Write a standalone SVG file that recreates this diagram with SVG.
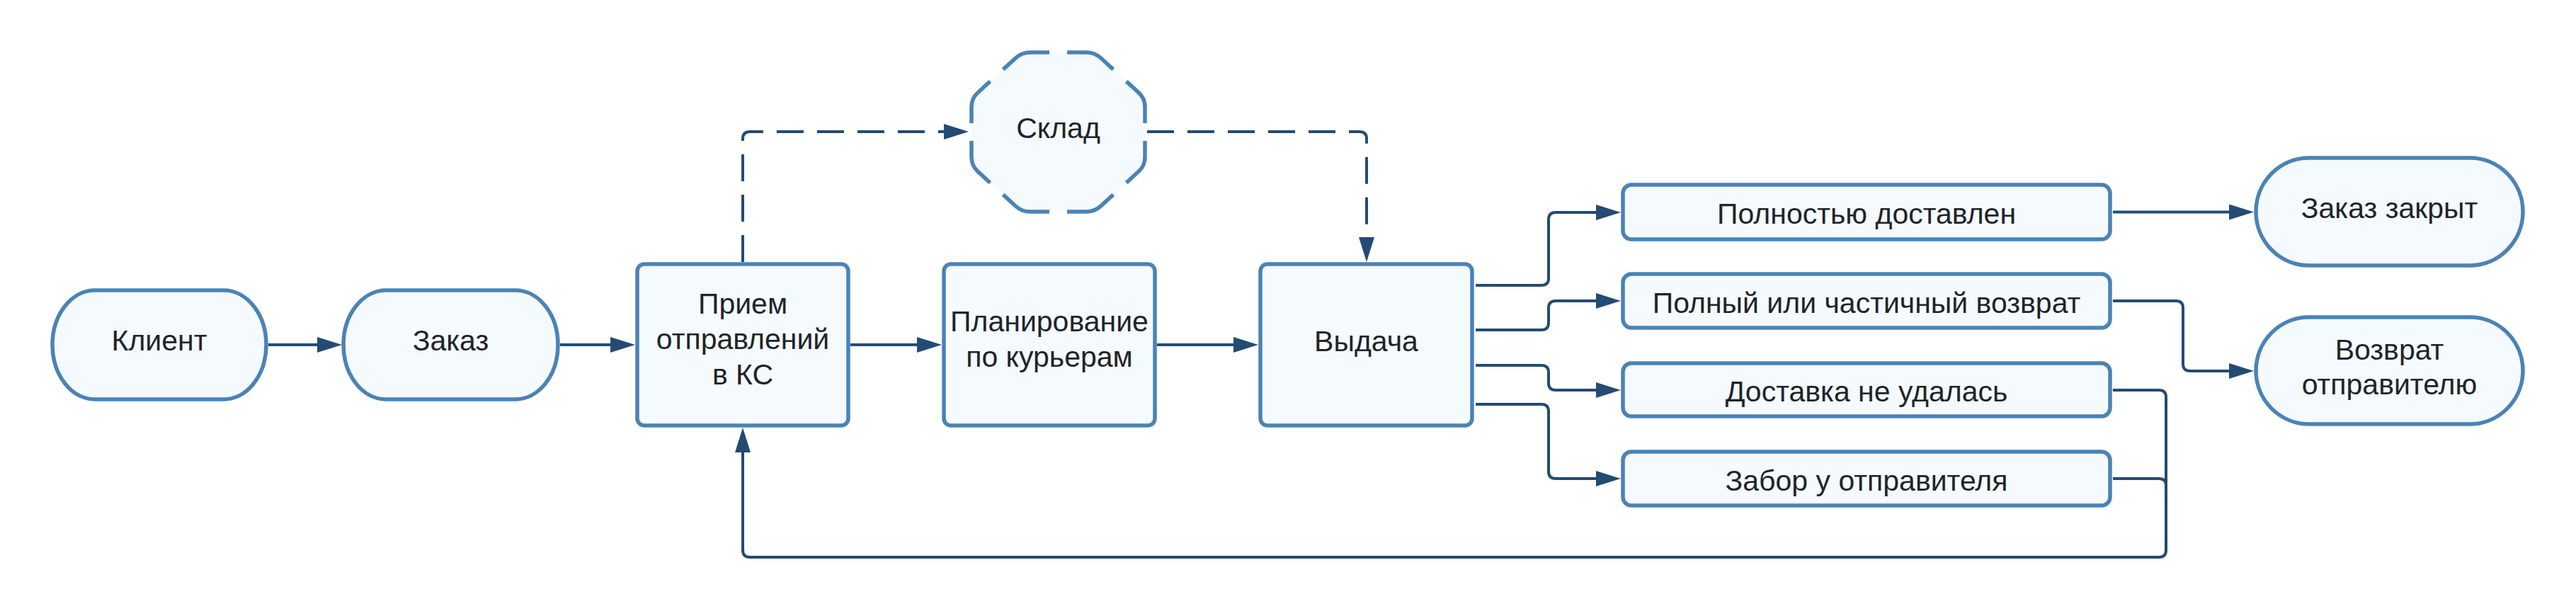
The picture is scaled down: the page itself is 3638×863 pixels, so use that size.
<svg xmlns="http://www.w3.org/2000/svg" width="3638" height="863" viewBox="0 0 3638 863">
<style>
.n{fill:#f5faff;stroke:#4a83b5;stroke-width:5.5}
.ns{fill:none;stroke:#4a83b5;stroke-width:5.5;stroke-linecap:butt}
.t{font-family:"Liberation Sans",Arial,sans-serif;font-size:41px;fill:#1f2427;text-anchor:middle}
.c{fill:none;stroke:#234b73;stroke-width:4}
.d{stroke-dasharray:38 19}
</style>
<defs>
<marker id="ah" markerUnits="userSpaceOnUse" viewBox="0 -11 35 22" refX="0" refY="0" markerWidth="35" markerHeight="22" orient="auto">
<path d="M0,-11 L35,0 L0,11 Z" fill="#234b73"/>
</marker>
</defs>
<rect width="3638" height="863" fill="#ffffff"/>
<g id="connectors">
<path class="c" d="M379,487 H448" marker-end="url(#ah)"/>
<path class="c" d="M791,487 H862" marker-end="url(#ah)"/>
<path class="c" d="M1201,487 H1295" marker-end="url(#ah)"/>
<path class="c" d="M1634,487 H1742" marker-end="url(#ah)"/>
<path class="c d" d="M1049,370 V196 Q1049,186 1059,186 H1333" marker-end="url(#ah)"/>
<path class="c d" d="M1620,186 H1920 Q1930,186 1930,196 V335" marker-end="url(#ah)"/>
<path class="c" d="M2084,403 H2177 Q2187,403 2187,393 V310 Q2187,300 2197,300 H2254" marker-end="url(#ah)"/>
<path class="c" d="M2084,466 H2177 Q2187,466 2187,456 V435 Q2187,425 2197,425 H2254" marker-end="url(#ah)"/>
<path class="c" d="M2084,516 H2177 Q2187,516 2187,526 V541 Q2187,551 2197,551 H2254" marker-end="url(#ah)"/>
<path class="c" d="M2084,571 H2177 Q2187,571 2187,581 V666 Q2187,676 2197,676 H2254" marker-end="url(#ah)"/>
<path class="c" d="M2984,299.5 H3148" marker-end="url(#ah)"/>
<path class="c" d="M2984,425 H3073 Q3083,425 3083,435 V514 Q3083,524 3093,524 H3148" marker-end="url(#ah)"/>
<path class="c" d="M2984,676 H3049 Q3059,676 3059,686 V777"/>
<path class="c" d="M2984,551 H3049 Q3059,551 3059,561 V777 Q3059,787 3049,787 H1059 Q1049,787 1049,777 V639" marker-end="url(#ah)"/>
</g>
<g id="klient">
<rect class="n" x="74" y="410" width="302" height="154" rx="60" ry="77"/>
<text class="t" x="225" y="495">Клиент</text>
</g>
<g id="zakaz">
<rect class="n" x="485" y="410" width="303" height="154" rx="60" ry="77"/>
<text class="t" x="636.5" y="495">Заказ</text>
</g>
<g id="priem">
<rect class="n" x="900" y="373" width="298" height="228" rx="10"/>
<text class="t" x="1049" y="443">Прием</text>
<text class="t" x="1049" y="493">отправлений</text>
<text class="t" x="1049" y="543">в КС</text>
</g>
<g id="plan">
<rect class="n" x="1333" y="373" width="298" height="228" rx="10"/>
<text class="t" x="1482" y="468">Планирование</text>
<text class="t" x="1482" y="518">по курьерам</text>
</g>
<g id="vydacha">
<rect class="n" x="1780" y="373" width="299" height="228" rx="10"/>
<text class="t" x="1929.5" y="496">Выдача</text>
</g>
<g id="sklad">
<path d="M1494.5,74 H1534 Q1546,74 1554.8,82.1 L1608.2,130.9 Q1617,139 1617,151 V222 Q1617,234 1608.2,242.1 L1554.8,290.9 Q1546,299 1534,299 H1455 Q1443,299 1434.2,290.9 L1380.8,242.1 Q1372,234 1372,222 V151 Q1372,139 1380.8,130.9 L1434.2,82.1 Q1443,74 1455,74 Z" fill="#f5faff"/>
<path class="ns" d="M1507,74 H1534 Q1546,74 1554.8,82.1 L1572.3,98.1"/>
<path class="ns" d="M1590.7,114.9 L1608.2,130.9 Q1617,139 1617,151 V174"/>
<path class="ns" d="M1617,199 V222 Q1617,234 1608.2,242.1 L1590.7,258.1"/>
<path class="ns" d="M1572.3,274.9 L1554.8,290.9 Q1546,299 1534,299 H1507"/>
<path class="ns" d="M1482,299 H1455 Q1443,299 1434.2,290.9 L1416.7,274.9"/>
<path class="ns" d="M1398.3,258.1 L1380.8,242.1 Q1372,234 1372,222 V199"/>
<path class="ns" d="M1372,174 V151 Q1372,139 1380.8,130.9 L1398.3,114.9"/>
<path class="ns" d="M1416.7,98.1 L1434.2,82.1 Q1443,74 1455,74 H1482"/>
<text class="t" x="1494.5" y="195">Склад</text>
</g>
<g id="r1">
<rect class="n" x="2292" y="261" width="688" height="77" rx="12"/>
<text class="t" x="2636" y="316">Полностью доставлен</text>
</g>
<g id="r2">
<rect class="n" x="2292" y="387" width="688" height="76" rx="12"/>
<text class="t" x="2636" y="442">Полный или частичный возврат</text>
</g>
<g id="r3">
<rect class="n" x="2292" y="513" width="688" height="75" rx="12"/>
<text class="t" x="2636" y="567">Доставка не удалась</text>
</g>
<g id="r4">
<rect class="n" x="2292" y="638" width="688" height="76" rx="12"/>
<text class="t" x="2636" y="693">Забор у отправителя</text>
</g>
<g id="closed">
<rect class="n" x="3186" y="223" width="377" height="152" rx="75" ry="76"/>
<text class="t" x="3374.5" y="308">Заказ закрыт</text>
</g>
<g id="return">
<rect class="n" x="3186" y="448" width="377" height="151" rx="75" ry="75.5"/>
<text class="t" x="3374.5" y="508">Возврат</text>
<text class="t" x="3374.5" y="557">отправителю</text>
</g>
</svg>
